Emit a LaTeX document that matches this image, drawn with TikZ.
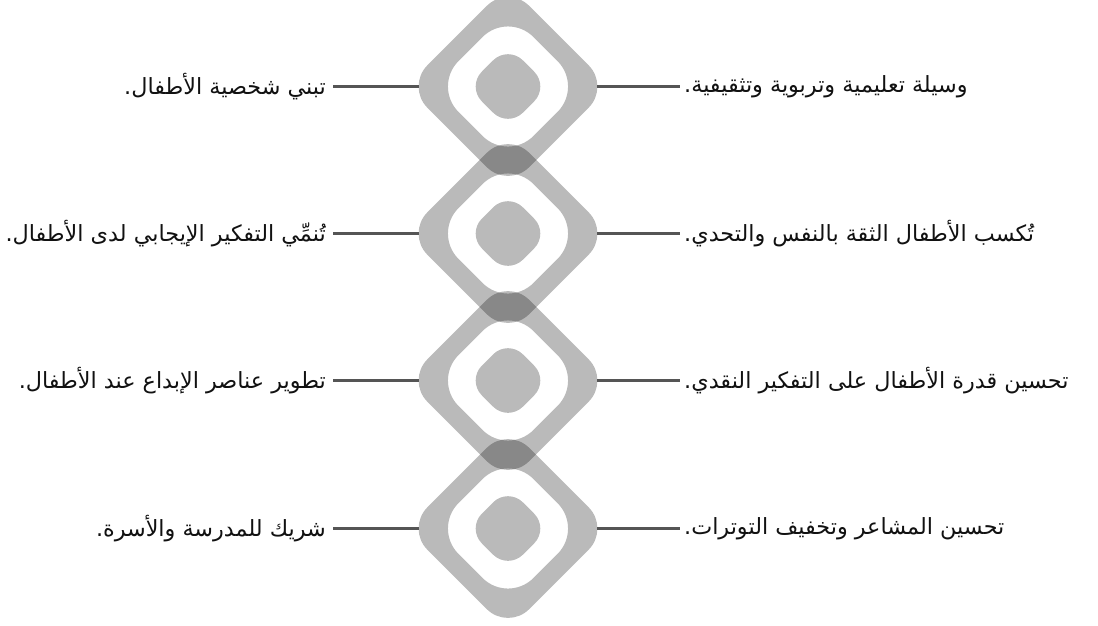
\documentclass[tikz,border=0pt]{standalone}
\usepackage{fontspec}
\newfontfamily\arabicfont[Script=Arabic]{DejaVu Sans}
\TeXXeTstate=1
\definecolor{linkgray}{RGB}{85,85,85}
\definecolor{txt}{RGB}{17,17,17}
\begin{document}
\begin{tikzpicture}[x=1pt,y=-1pt]
\tikzset{
  ring/.style={fill=black, fill opacity=0.27, even odd rule},
  blob/.style={fill=black, fill opacity=0.27},
  link/.style={draw=linkgray, line width=2.2pt},
  lbl/.style={font=\arabicfont\fontsize{22.3}{26}\selectfont, text=txt, inner ysep=0pt},
  rtext/.style={lbl, anchor=west, inner xsep=4pt},
  ltext/.style={lbl, anchor=east, inner xsep=7pt}
}
\useasboundingbox (0,0) rectangle (1098,625);
\clip (0,0) rectangle (1098,625);
\foreach \i/\y in {1/86.5, 2/233.5, 3/380.5, 4/528.5} {
  \begin{scope}[shift={(508,\y)}, rotate=45]
    \fill[ring] [rounded corners=30pt] (-72,-72) rectangle (72,72)
                [rounded corners=36pt] (-53,-53) rectangle (53,53);
    \fill[blob, rounded corners=21pt] (-29,-29) rectangle (29,29);
  \end{scope}
  \coordinate (dl\i) at (419,\y);
  \coordinate (dr\i) at (597,\y);
}
\node[rtext] (r1) at (680,86.5) {\beginR وسيلة تعليمية وتربوية وتثقيفية.\endR};
\node[rtext] (r2) at (680,233.5) {\beginR تُكسب الأطفال الثقة بالنفس والتحدي.\endR};
\node[rtext] (r3) at (680,380.5) {\beginR تحسين قدرة الأطفال على التفكير النقدي.\endR};
\node[rtext] (r4) at (680,528.5) {\beginR تحسين المشاعر وتخفيف التوترات.\endR};
\node[ltext] (l1) at (333,86.5) {\beginR تبني شخصية الأطفال.\endR};
\node[ltext] (l2) at (333,233.5) {\beginR تُنمِّي التفكير الإيجابي لدى الأطفال.\endR};
\node[ltext] (l3) at (333,380.5) {\beginR تطوير عناصر الإبداع عند الأطفال.\endR};
\node[ltext] (l4) at (333,528.5) {\beginR شريك للمدرسة والأسرة.\endR};
\foreach \i in {1,2,3,4} {
  \draw[link] (dr\i) -- (r\i.west);
  \draw[link] (dl\i) -- (l\i.east);
}
\end{tikzpicture}
\end{document}
